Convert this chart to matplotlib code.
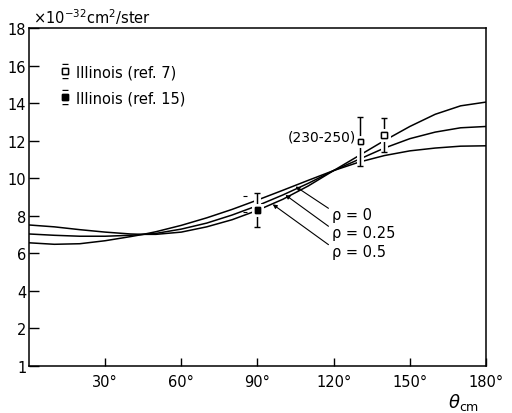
import numpy as np
import matplotlib
matplotlib.use("Agg")
import matplotlib.pyplot as plt
import matplotlib.patheffects as pe

# ----------------------------------------------------------------------
# data
# ----------------------------------------------------------------------

theta = [0, 10, 20, 30, 40, 45, 50, 60, 70, 80, 90, 100, 110, 120,
         130, 140, 150, 160, 170, 180]

# rho = 0 (flattest curve)
curve_rho0 = [6.55, 6.47, 6.5, 6.66, 6.88, 7.0, 7.14, 7.48, 7.88, 8.33, 8.83,
              9.35, 9.88, 10.4, 10.85, 11.2, 11.45, 11.6, 11.7, 11.72]
# rho = 0.25
curve_rho25 = [7.02, 6.95, 6.9, 6.9, 6.95, 7.0, 7.05, 7.28, 7.6, 8.03, 8.53,
               9.1, 9.72, 10.4, 11.0, 11.6, 12.1, 12.45, 12.68, 12.75]
# rho = 0.5 (steepest curve)
curve_rho5 = [7.5, 7.4, 7.25, 7.12, 7.02, 7.0, 7.0, 7.12, 7.4, 7.78, 8.28,
              8.87, 9.58, 10.4, 11.2, 12.0, 12.75, 13.4, 13.85, 14.05]

# Illinois (ref. 7) - open squares
ref7_theta = [130.5, 139.8]
ref7_val = [11.95, 12.3]
ref7_err = [1.3, 0.9]

# Illinois (ref. 15) - filled square
ref15_theta = [90.0]
ref15_val = [8.3]
ref15_err = [0.92]

# faint caps left of the 90 deg point
faint_theta = [85.0]
faint_val = [8.6]
faint_err = [0.42]

xtick_vals = [30, 60, 90, 120, 150, 180]
xtick_labels = ["30°", "60°", "90°", "120°", "150°", "180°"]
ytick_vals = [0, 2, 4, 6, 8, 10, 12, 14, 16, 18]
ytick_labels = ["1", "2", "4", "6", "8", "10", "12", "14", "16", "18"]


def main():
    plt.rcParams["font.family"] = "DejaVu Sans"
    fig = plt.figure(figsize=(5.12, 4.14), dpi=100)
    ax = fig.add_axes([0.0566, 0.1143, 0.8926, 0.8157])

    for ys in (curve_rho0, curve_rho25, curve_rho5):
        ax.plot(theta, ys, color="black", lw=1.1, solid_capstyle="butt")

    gap = [pe.withStroke(linewidth=5, foreground="white")]

    def points(x, y, e, face, label):
        eb = ax.errorbar(x, y, yerr=e, fmt="s", ms=4, mfc=face, mec="black",
                         mew=1.0, ecolor="black", elinewidth=0.9, capsize=2.2,
                         capthick=0.9, zorder=5, label=label)
        eb[2][0].set_path_effects(gap + [pe.Normal()])
        eb[0].set_path_effects(gap + [pe.Normal()])
        return eb

    eb7 = points(ref7_theta, ref7_val, ref7_err, "white", "Illinois (ref. 7)")
    eb15 = points(ref15_theta, ref15_val, ref15_err, "black", "Illinois (ref. 15)")

    ax.errorbar(faint_theta, faint_val, yerr=faint_err, fmt="none", ecolor="black",
                elinewidth=0, capsize=1.5, capthick=0.8, zorder=4)

    ax.set_xlim(0, 180)
    ax.set_ylim(0, 18)
    ax.set_xticks(xtick_vals)
    ax.set_xticklabels(xtick_labels, fontsize=10.5)
    ax.set_yticks(ytick_vals)
    ax.set_yticklabels(ytick_labels, fontsize=10.5)
    ax.tick_params(axis="x", direction="in", length=6, width=1, pad=6)
    ax.tick_params(axis="y", direction="in", length=7, width=1, pad=2)
    for s in ax.spines.values():
        s.set_linewidth(1.1)

    ax.text(0.008, 1.005, r"$\times$10$^{-32}$cm$^{2}$/ster", transform=ax.transAxes,
            fontsize=10.5, ha="left", va="bottom")
    ax.text(0.95, -0.105, r"$\theta_{\rm cm}$", transform=ax.transAxes,
            fontsize=13, ha="center", va="center")

    ax.text(128.7, 12.2, "(230-250)", fontsize=10, ha="right", va="center")

    labels = [("ρ = 0", (105.0, 9.55), (119.5, 8.05)),
              ("ρ = 0.25", (101.0, 9.1), (119.5, 7.08)),
              ("ρ = 0.5", (96.0, 8.6), (119.5, 6.1))]
    for txt, xy, xyt in labels:
        ax.annotate(txt, xy=xy, xytext=xyt, fontsize=10.5, ha="left", va="center",
                    arrowprops=dict(arrowstyle="-|>", lw=0.8, color="black",
                                    shrinkA=1, shrinkB=0, mutation_scale=6,
                                    relpos=(0.0, 0.75)))

    ax.legend(handles=[eb7, eb15], loc="upper left", bbox_to_anchor=(0.055, 0.91),
              frameon=False, fontsize=10.5, handlelength=0.7, handletextpad=0.4,
              labelspacing=0.75, borderaxespad=0)

    fig.savefig("out.png", dpi=100)


if __name__ == "__main__":
    main()
